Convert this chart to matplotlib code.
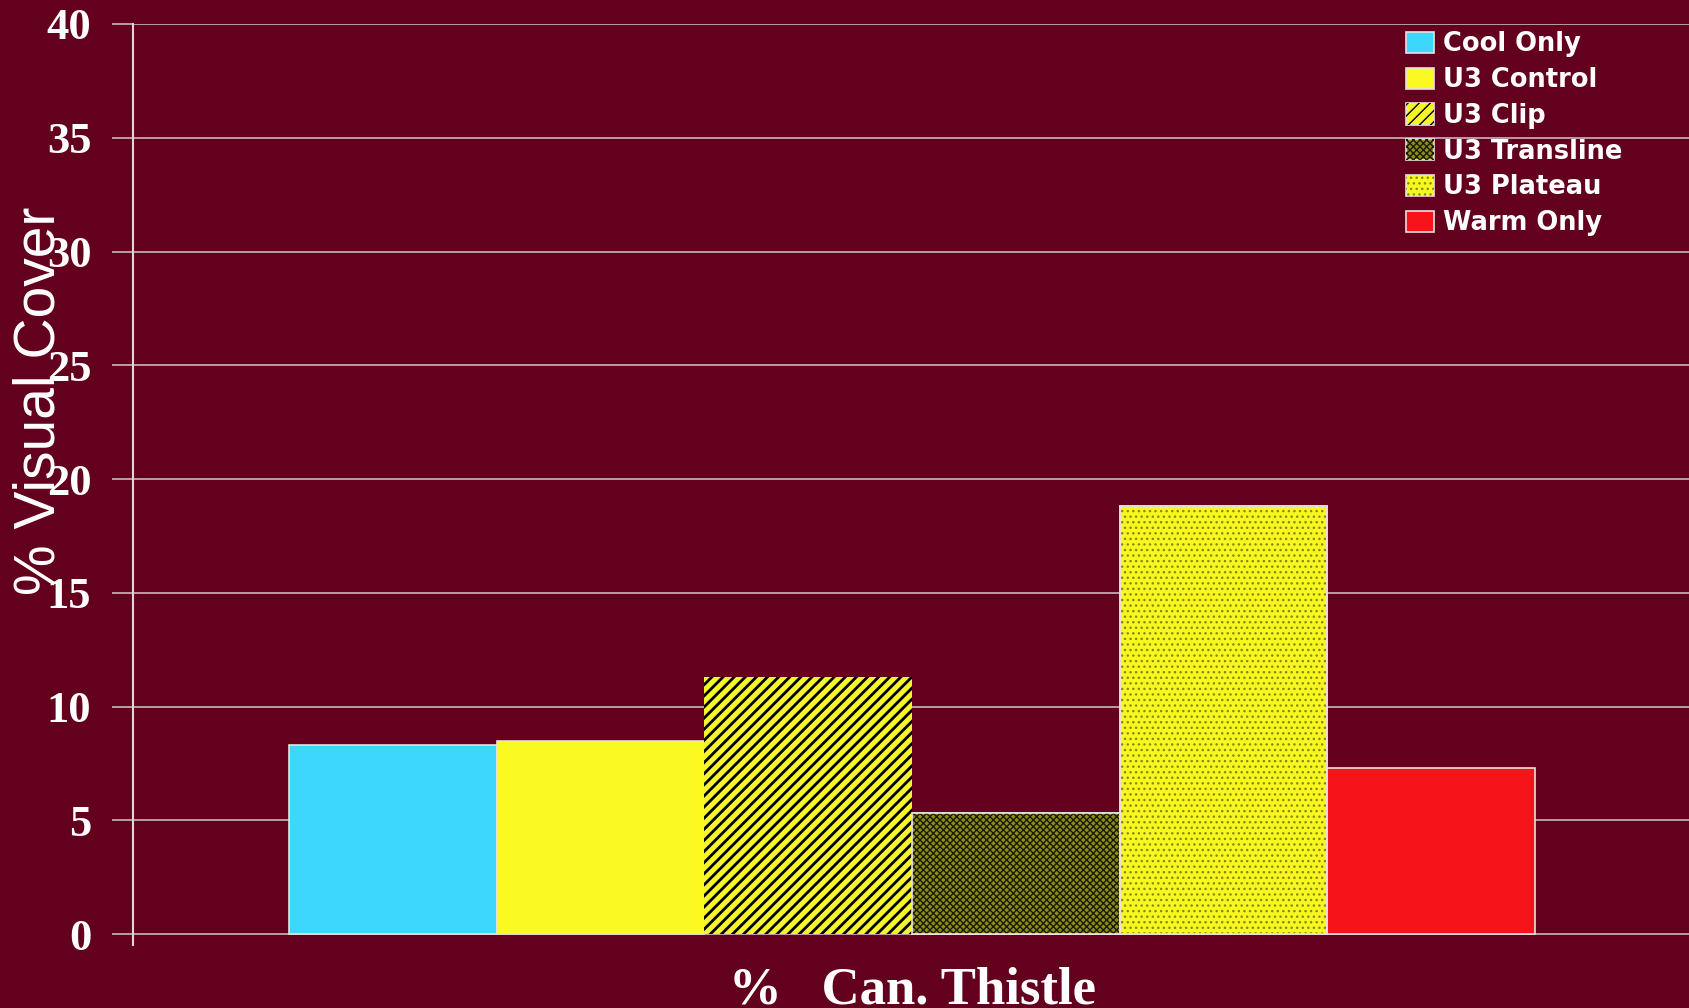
# Gráfico de barras: % cobertura visual de Can. Thistle por tratamiento

import matplotlib.pyplot as plt
from matplotlib.patches import Patch

# Datos del gráfico
tratamientos = ["Cool Only", "U3 Control", "U3 Clip", "U3 Transline", "U3 Plateau", "Warm Only"]
cobertura = [8.3, 8.5, 11.3, 5.3, 18.8, 7.3]
ticks_y = [0, 5, 10, 15, 20, 25, 30, 35, 40]

# Estilo de cada barra
colores = ["#3dd6fc", "#fafa22", "#f5f52a", "#8c8c18", "#f8f820", "#f41419"]
tramas = [None, None, "///", "xxxxx", "...", None]
color_trama = [None, None, "black", "#1a1a00", "#8a8a10", None]
ancho_trama = [None, None, 2.0, 1.0, 1.0, None]
borde = ["#e8e0e0", "#e8e0e0", "none", "#e8e0e0", "#e8e0e0", "#e8e0e0"]

fondo = "#62001d"
gris = "#c8b8bd"

fig = plt.figure(figsize=(16.9, 10.08), dpi=100, facecolor=fondo)
ax = fig.add_axes([133 / 1690, 1 - 945 / 1008, 1 - 133 / 1690, (945 - 24) / 1008])
ax.set_facecolor(fondo)

handles = []
for i, (nombre, valor) in enumerate(zip(tratamientos, cobertura)):
    ax.bar(i, valor, width=1.0, color=colores[i], edgecolor=borde[i],
           linewidth=1.2, zorder=3)
    base = Patch(facecolor=colores[i], edgecolor="#e8e0e0", linewidth=1.2)
    if tramas[i]:
        plt.rcParams["hatch.linewidth"] = ancho_trama[i]
        ax.bar(i, valor, width=1.0, facecolor="none", edgecolor=color_trama[i],
               hatch=tramas[i], linewidth=0, zorder=4)
        if borde[i] != "none":
            ax.bar(i, valor, width=1.0, facecolor="none", edgecolor=borde[i],
                   linewidth=1.2, zorder=5)
        trama = Patch(facecolor="none", edgecolor=color_trama[i],
                      hatch=tramas[i], linewidth=0)
        handles.append((base, trama))
    else:
        handles.append(base)

# Ejes y grilla
ax.set_xlim(-1.251, 6.246)
ax.set_ylim(-0.48, 40)
ax.set_yticks(ticks_y)
ax.set_yticklabels([str(t) for t in ticks_y], fontfamily="Liberation Serif",
                   fontweight="bold", fontsize=32, color="white")
ax.tick_params(axis="y", length=15, width=1.2, color=gris, pad=15)
ax.set_xticks([])
ax.grid(axis="y", color=gris, linewidth=1.2, zorder=0)
ax.set_axisbelow(True)
for lado in ["top", "right", "bottom"]:
    ax.spines[lado].set_visible(False)
ax.spines["left"].set_color("#e0d8d8")
ax.spines["left"].set_linewidth(1.5)

# Etiquetas
fig.text(40 / 1690, 1 - 401 / 1008, "% Visual Cover", rotation=90,
         fontfamily="Liberation Sans", fontsize=41, color="white",
         ha="center", va="center")
fig.text(913 / 1690, 1 - 1003 / 1008, "%   Can. Thistle",
         fontfamily="Liberation Serif", fontweight="bold", fontsize=38,
         color="white", ha="center", va="baseline")

leg = ax.legend(handles, tratamientos, loc="upper left",
                bbox_to_anchor=(0.8176, 0.992), frameon=False,
                prop={"family": "DejaVu Sans", "weight": "bold", "size": 18.5},
                labelcolor="white", handlelength=1.1, handleheight=0.9,
                handletextpad=0.35, labelspacing=0.38, borderaxespad=0,
                borderpad=0)

plt.savefig("out.png", dpi=100, facecolor=fondo)
